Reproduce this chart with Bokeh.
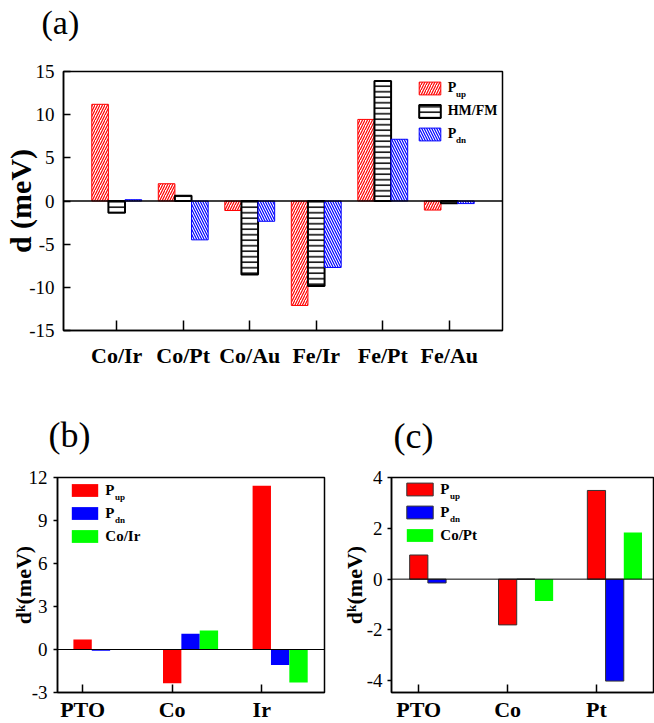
from bokeh.plotting import figure
from bokeh.models import (Range1d, FixedTicker, Span, Label, Legend, LegendItem,
                          ColumnDataSource, Title)
from bokeh.layouts import column, row
from bokeh.transform import dodge
from bokeh.embed import file_html
from bokeh.resources import INLINE

# ---------------- data ----------------
cats_a = ["Co/Ir", "Co/Pt", "Co/Au", "Fe/Ir", "Fe/Pt", "Fe/Au"]
pup_a = [11.2, 2.0, -1.1, -12.1, 9.45, -1.05]
hmfm_a = [-1.35, 0.6, -8.5, -9.85, 13.9, -0.25]
pdn_a = [0.15, -4.5, -2.35, -7.7, 7.15, -0.3]
yticks_a = [-15, -10, -5, 0, 5, 10, 15]

cats_b = ["PTO", "Co", "Ir"]
pup_b = [0.69, -2.35, 11.43]
pdn_b = [-0.08, 1.1, -1.08]
coir_b = [0.0, 1.32, -2.3]
yticks_b = [-3, 0, 3, 6, 9, 12]

cats_c = ["PTO", "Co", "Pt"]
pup_c = [0.95, -1.8, 3.49]
pdn_c = [-0.15, 0.0, -4.01]
copt_c = [0.0, -0.86, 1.84]
yticks_c = [-4, -2, 0, 2, 4]

SERIF = "Liberation Serif"
RED, BLUE, GREEN = "#FF0000", "#0000FF", "#00FF00"


def style_axes(p, xticks, xlabels, yticks, ytick_in, ytick_out, xtick_in,
               ystand, xstand, xsize, ylabel, ylabel_size, ylabel_stand):
    p.xgrid.visible = False
    p.ygrid.visible = False
    p.outline_line_color = "black"
    p.outline_line_width = 1.5
    for ax in (p.xaxis[0], p.yaxis[0]):
        ax.axis_line_width = 1.5
        ax.major_tick_line_width = 1.5
        ax.minor_tick_in = 0
        ax.minor_tick_out = 0
        ax.major_label_text_font = SERIF
        ax.major_label_text_color = "black"
        ax.major_label_text_line_height = 1.0
        ax.axis_label_text_line_height = 1.0
    p.yaxis.ticker = FixedTicker(ticks=yticks)
    p.yaxis.major_label_overrides = {t: str(t) for t in yticks}
    p.yaxis.major_tick_in = ytick_in
    p.yaxis.major_tick_out = ytick_out
    p.yaxis.major_label_standoff = ystand
    p.yaxis.major_label_text_font_size = "19px"
    p.yaxis.axis_label = ylabel
    p.yaxis.axis_label_text_font = SERIF
    p.yaxis.axis_label_text_font_style = "bold"
    p.yaxis.axis_label_text_font_size = ylabel_size
    p.yaxis.axis_label_text_color = "black"
    p.yaxis.axis_label_standoff = ylabel_stand
    p.xaxis.ticker = FixedTicker(ticks=xticks)
    p.xaxis.major_label_overrides = {t: s for t, s in zip(xticks, xlabels)}
    p.xaxis.major_tick_in = xtick_in
    p.xaxis.major_tick_out = 0
    p.xaxis.major_label_standoff = xstand
    p.xaxis.major_label_text_font_size = xsize
    p.xaxis.major_label_text_font_style = "bold"


def add_title(p, text, size, offset, standoff):
    p.add_layout(Title(text=text, align="left", offset=offset, standoff=standoff,
                       vertical_align="bottom", text_font=SERIF,
                       text_font_size=f"{size}px", text_font_style="normal",
                       text_color="black", text_line_height=1.0), "above")


def sub(p, text, x, y):
    p.add_layout(Label(x=x, y=y, x_units="screen", y_units="screen", text=text,
                       text_font=SERIF, text_font_size="9px",
                       text_font_style="bold", text_align="left",
                       text_baseline="alphabetic", text_color="black"))


def legend(items, loc, gw, size):
    return Legend(items=items, location=loc, glyph_width=gw, glyph_height=16,
                  label_height=20, spacing=3, padding=0, margin=0,
                  label_standoff=5 if gw < 30 else 4, border_line_alpha=0,
                  background_fill_alpha=0, label_text_font=SERIF,
                  label_text_font_style="bold", label_text_font_size=size,
                  label_text_color="black")


# ---------------- panel (a) ----------------
xa = list(range(1, len(cats_a) + 1))
src_a = ColumnDataSource(dict(x=xa, pup=pup_a, hmfm=hmfm_a, pdn=pdn_a))
pa = figure(frame_width=439, frame_height=259, min_border_left=63,
            min_border_right=10, min_border_top=71, min_border_bottom=60,
            x_range=Range1d(0.2, 6.8), y_range=Range1d(-15, 15),
            title=None, output_backend="svg", toolbar_location=None, tools="")
ra1 = pa.vbar(x=dodge("x", -0.25), top="pup", bottom=0, width=0.25, source=src_a,
              fill_color="white", line_color=RED, line_width=1,
              hatch_pattern="/", hatch_color=RED, hatch_scale=5, hatch_weight=1.2)
ra2 = pa.vbar(x=dodge("x", 0.0), top="hmfm", bottom=0, width=0.25, source=src_a,
              fill_color="white", line_color="black", line_width=2,
              hatch_pattern="-", hatch_color="black", hatch_scale=5.5, hatch_weight=1.5)
ra3 = pa.vbar(x=dodge("x", 0.25), top="pdn", bottom=0, width=0.25, source=src_a,
              fill_color="white", line_color=BLUE, line_width=1,
              hatch_pattern="\\", hatch_color=BLUE, hatch_scale=5, hatch_weight=1.2)
pa.add_layout(Span(location=0, dimension="width", line_color="black", line_width=1.5))
style_axes(pa, xa, cats_a, yticks_a, 7, 0, 10, 9, 12, "22px",
           "d (meV)", "30px", -11)
pa.add_layout(legend([LegendItem(label="P", renderers=[ra1]),
                      LegendItem(label="HM/FM", renderers=[ra2]),
                      LegendItem(label="P", renderers=[ra3])],
                     (352.7, 186), 27, "14px"))
sub(pa, "up", 392.5, 236.4)
sub(pa, "dn", 392.5, 190.4)
# spacer (closest to the frame) then the panel letter above it
pa.add_layout(Title(text=" ", text_font_size="2px", standoff=26.5,
                    text_line_height=1.0), "above")
add_title(pa, "(a)", 34, -22, 0)

# ---------------- panel (b) ----------------
xb = list(range(1, len(cats_b) + 1))
src_b = ColumnDataSource(dict(x=xb, pup=pup_b, pdn=pdn_b, co=coir_b))
pb = figure(frame_width=267, frame_height=215, min_border_left=57,
            min_border_right=5, min_border_top=87, min_border_bottom=20,
            x_range=Range1d(0.72, 3.70), y_range=Range1d(-3, 12),
            title=None, output_backend="svg", toolbar_location=None, tools="")
rb1 = pb.vbar(x=dodge("x", 0.0), top="pup", bottom=0, width=0.205, source=src_b,
              fill_color=RED, line_color=None)
rb2 = pb.vbar(x=dodge("x", 0.205), top="pdn", bottom=0, width=0.205, source=src_b,
              fill_color=BLUE, line_color=None)
rb3 = pb.vbar(x=dodge("x", 0.41), top="co", bottom=0, width=0.205, source=src_b,
              fill_color=GREEN, line_color=None)
pb.add_layout(Span(location=0, dimension="width", line_color="black", line_width=1))
style_axes(pb, xb, cats_b, yticks_b, 0, 4, 8, 6, 4, "22px",
           "d\u1d4f(meV)", "22px", -10)
pb.add_layout(legend([LegendItem(label="P", renderers=[rb1]),
                      LegendItem(label="P", renderers=[rb2]),
                      LegendItem(label="Co/Ir", renderers=[rb3])],
                     (11.3, 146), 33, "15px"))
sub(pb, "up", 57.5, 196)
sub(pb, "dn", 57.5, 173)
add_title(pb, "(b)", 36, -9, 45)

# ---------------- panel (c) ----------------
xc = list(range(1, len(cats_c) + 1))
src_c = ColumnDataSource(dict(x=xc, pup=pup_c, pdn=pdn_c, co=copt_c))
pc = figure(frame_width=262, frame_height=215, min_border_left=62,
            min_border_right=1, min_border_top=87, min_border_bottom=20,
            x_range=Range1d(0.693, 3.642), y_range=Range1d(-4.46, 4.0),
            title=None, output_backend="svg", toolbar_location=None, tools="")
rc1 = pc.vbar(x=dodge("x", 0.0), top="pup", bottom=0, width=0.205, source=src_c,
              fill_color=RED, line_color="#333333", line_width=1)
rc2 = pc.vbar(x=dodge("x", 0.205), top="pdn", bottom=0, width=0.205, source=src_c,
              fill_color=BLUE, line_color="#333333", line_width=1)
rc3 = pc.vbar(x=dodge("x", 0.41), top="co", bottom=0, width=0.205, source=src_c,
              fill_color=GREEN, line_color=None)
pc.add_layout(Span(location=0, dimension="width", line_color="black", line_width=1))
style_axes(pc, xc, cats_c, yticks_c, 0, 4, 8, 5, 4, "22px",
           "d\u1d4f(meV)", "22px", -3)
pc.add_layout(legend([LegendItem(label="P", renderers=[rc1]),
                      LegendItem(label="P", renderers=[rc2]),
                      LegendItem(label="Co/Pt", renderers=[rc3])],
                     (12.3, 147), 33, "15px"))
sub(pc, "up", 58.5, 197)
sub(pc, "dn", 58.5, 174)
add_title(pc, "(c)", 36, 2, 43)

layout = column(pa, row(pb, pc))
open("out.html", "w").write(file_html(layout, INLINE))
